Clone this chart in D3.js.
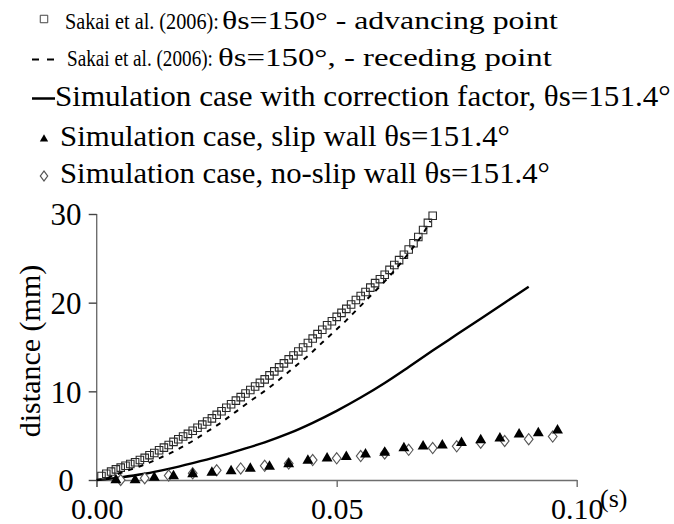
<!DOCTYPE html>
<html>
<head>
<meta charset="utf-8">
<script src="https://cdn.jsdelivr.net/npm/d3@7"></script>
<style>
  html, body { margin: 0; padding: 0; background: #fff; }
</style>
</head>
<body>
<svg id="chart" width="674" height="524" font-family="Liberation Serif"></svg>
<script>
const SERIF = "'Liberation Serif'";

// Time (s) and travelled distance (mm)
const advT = d3.range(1, 71).map(i => i / 1000);
const advD = [0.45, 0.7, 0.95, 1.2, 1.4, 1.6, 1.8, 2.0, 2.25, 2.5,
  2.8, 3.05, 3.35, 3.65, 3.95, 4.3, 4.6, 4.9, 5.2, 5.55,
  5.9, 6.25, 6.6, 6.95, 7.35, 7.75, 8.15, 8.55, 8.95, 9.35,
  9.75, 10.15, 10.55, 10.95, 11.35, 11.8, 12.25, 12.7, 13.15, 13.6,
  14.05, 14.5, 14.95, 15.45, 15.95, 16.45, 16.95, 17.45, 17.9, 18.4,
  18.85, 19.3, 19.8, 20.3, 20.75, 21.2, 21.7, 22.2, 22.65, 23.15,
  23.7, 24.25, 24.8, 25.4, 26.0, 26.7, 27.4, 28.2, 29.0, 29.8];

const recT = [0, 0.002, 0.004, 0.006, 0.008, 0.010, 0.012, 0.014, 0.016, 0.018,
  0.020, 0.022, 0.024, 0.026, 0.028, 0.030, 0.032, 0.034, 0.036, 0.038,
  0.040, 0.042, 0.044, 0.046, 0.048, 0.050, 0.052, 0.054, 0.056, 0.058,
  0.060, 0.062, 0.064, 0.066, 0.068, 0.0695];
const recD = [0, 0.2, 0.6, 1.0, 1.35, 1.75, 2.2, 2.7, 3.2, 3.8,
  4.4, 5.1, 5.8, 6.5, 7.3, 8.1, 8.9, 9.65, 10.45, 11.3,
  12.2, 13.1, 14.0, 15.0, 16.0, 17.0, 18.0, 19.1, 20.2, 21.3,
  22.4, 23.6, 24.9, 26.3, 27.8, 29.2];

const corrT = [0, 0.005, 0.010, 0.015, 0.020, 0.025, 0.030, 0.035, 0.040, 0.045,
  0.050, 0.055, 0.060, 0.065, 0.070, 0.075, 0.080, 0.085, 0.090];
const corrD = [0, 0.3, 0.7, 1.25, 1.9, 2.6, 3.4, 4.25, 5.25, 6.45,
  7.8, 9.3, 10.95, 12.75, 14.6, 16.4, 18.2, 20.0, 21.8];

const slipT = [0.004, 0.008, 0.012, 0.016, 0.020, 0.024, 0.028, 0.032, 0.036, 0.040,
  0.044, 0.048, 0.052, 0.056, 0.060, 0.064, 0.068, 0.072, 0.076, 0.080,
  0.084, 0.088, 0.092, 0.096];
const slipD = [0.0, 0.0, 0.26, 0.45, 0.68, 0.83, 1.0, 1.3, 1.5, 1.8,
  2.2, 2.45, 2.6, 2.9, 3.1, 3.6, 3.8, 3.9, 4.2, 4.5,
  4.7, 5.15, 5.3, 5.6];

const noSlipT = [0.005, 0.010, 0.015, 0.020, 0.025, 0.030, 0.035, 0.040, 0.045, 0.050,
  0.055, 0.060, 0.065, 0.070, 0.075, 0.080, 0.085, 0.090, 0.095];
const noSlipD = [0.0, 0.2, 0.5, 0.75, 1.1, 1.3, 1.6, 1.85, 2.25, 2.45,
  2.7, 3.0, 3.4, 3.6, 3.8, 4.2, 4.4, 4.6, 4.9];

const xTicks = [0, 0.05, 0.10];
const yTicks = [0, 10, 20, 30];

const svg = d3.select("#chart");
const x = d3.scaleLinear().domain([0, 0.1]).range([96.7, 576.7]);
const y = d3.scaleLinear().domain([0, 30]).range([480, 214]);

// Axes
const yAxis = svg.append("g").attr("transform", `translate(${x(0)},0)`)
  .call(d3.axisLeft(y).tickValues(yTicks).tickFormat(d3.format("d")).tickSize(8).tickSizeOuter(0));
yAxis.attr("font-family", null);
yAxis.select(".domain").attr("stroke", "#6e6e6e").attr("stroke-width", 1.4)
  .attr("d", `M0,${y(30)}V${y(0) + 7}`);
yAxis.selectAll(".tick line").attr("stroke", "#444").attr("stroke-width", 1.4);
yAxis.selectAll(".tick text").attr("x", -30.7).attr("dy", "0.35em").attr("text-anchor", "middle")
  .style("font-family", SERIF).style("font-size", "31px").attr("fill", "#000");

const xAxis = svg.append("g").attr("transform", `translate(0,${y(0)})`)
  .call(d3.axisBottom(x).tickValues(xTicks).tickFormat(d3.format(".2f")).tickSize(7).tickSizeOuter(0));
xAxis.attr("font-family", null);
xAxis.select(".domain").attr("stroke", "#6e6e6e").attr("stroke-width", 1.4);
xAxis.selectAll(".tick line").attr("stroke", "#6e6e6e").attr("stroke-width", 1.4);
xAxis.selectAll(".tick text").attr("y", 39).attr("dy", 0)
  .style("font-family", SERIF).style("font-size", "30px").attr("fill", "#000");

svg.append("text").attr("x", 600).attr("y", 507)
  .style("font-family", SERIF).style("font-size", "26px").text("(s)");

svg.append("text")
  .attr("transform", "translate(40,351) rotate(-90)")
  .attr("text-anchor", "middle")
  .style("font-family", SERIF).style("font-size", "30px")
  .text("distance (mm)");

// Series
const adv = advT.map((t, i) => [t, advD[i]]);
const rec = recT.map((t, i) => [t, recD[i]]);
const corr = corrT.map((t, i) => [t, corrD[i]]);
const slip = slipT.map((t, i) => [t, slipD[i]]);
const noSlip = noSlipT.map((t, i) => [t, noSlipD[i]]);

const line = d3.line().x(d => x(d[0])).y(d => y(d[1])).curve(d3.curveMonotoneX);

svg.append("path").datum(corr).attr("d", line)
  .attr("fill", "none").attr("stroke", "#000").attr("stroke-width", 2.4);

const sq = d3.symbol().type(d3.symbolSquare).size(56);
const tri = d3.symbol().type(d3.symbolTriangle).size(52);
const dia = d3.symbol().type(d3.symbolDiamond).size(36);

svg.append("g").selectAll("path").data(noSlip).join("path")
  .attr("d", dia).attr("transform", d => `translate(${x(d[0])},${y(d[1])}) scale(1.35,1)`)
  .attr("fill", "#fff").attr("stroke", "#555").attr("stroke-width", 0.9);

svg.append("g").selectAll("path").data(slip).join("path")
  .attr("d", tri).attr("transform", d => `translate(${x(d[0])},${y(d[1])})`)
  .attr("fill", "#000");

svg.append("g").selectAll("path").data(adv).join("path")
  .attr("d", sq).attr("transform", d => `translate(${x(d[0])},${y(d[1])})`)
  .attr("fill", "none").attr("stroke", "#2a2a2a").attr("stroke-width", 1.1);

svg.append("path").datum(rec).attr("d", line)
  .attr("fill", "none").attr("stroke", "#000").attr("stroke-width", 2)
  .attr("stroke-dasharray", "5,6");

// Legend
const lg = svg.append("g");
lg.append("path").attr("d", d3.symbol().type(d3.symbolSquare).size(56))
  .attr("transform", "translate(44,19)").attr("fill", "none").attr("stroke", "#444").attr("stroke-width", 1);
lg.append("line").attr("x1", 32).attr("x2", 39).attr("y1", 59.5).attr("y2", 59.5).attr("stroke", "#000").attr("stroke-width", 2);
lg.append("line").attr("x1", 47).attr("x2", 54).attr("y1", 59.5).attr("y2", 59.5).attr("stroke", "#000").attr("stroke-width", 2);
lg.append("line").attr("x1", 32).attr("x2", 55).attr("y1", 98.5).attr("y2", 98.5).attr("stroke", "#000").attr("stroke-width", 2.5);
lg.append("path").attr("d", d3.symbol().type(d3.symbolTriangle).size(30))
  .attr("transform", "translate(44,139)").attr("fill", "#000");
lg.append("path").attr("d", d3.symbol().type(d3.symbolDiamond).size(28))
  .attr("transform", "translate(44,176) scale(1.3,1)").attr("fill", "#fff").attr("stroke", "#555").attr("stroke-width", 1);

// Legend entries: text placed at (x, baseline) and fitted horizontally to a set width
const legendItems = [
  { t: "Sakai et al. (2006):", x: 65, y: 29, size: 24, w: 154 },
  { t: "θs=150° - advancing point", x: 222, y: 29, size: 26, w: 336 },
  { t: "Sakai et al. (2006):", x: 67, y: 66, size: 24, w: 146 },
  { t: "θs=150°, - receding point", x: 218, y: 66, size: 26, w: 334 },
  { t: "Simulation case with correction factor, θs=151.4°", x: 55, y: 106, size: 30, w: 616 },
  { t: "Simulation case, slip wall θs=151.4°", x: 60, y: 145.5, size: 29, w: 450 },
  { t: "Simulation case, no-slip wall θs=151.4°", x: 60, y: 183, size: 29, w: 490 }
];
legendItems.forEach(d => {
  const t = lg.append("text").attr("x", 0).attr("y", 0)
    .style("font-family", SERIF).style("font-size", d.size + "px").text(d.t);
  const natural = t.node().getComputedTextLength();
  t.attr("transform", `translate(${d.x},${d.y}) scale(${d.w / natural},1)`);
});
</script>
</body>
</html>
